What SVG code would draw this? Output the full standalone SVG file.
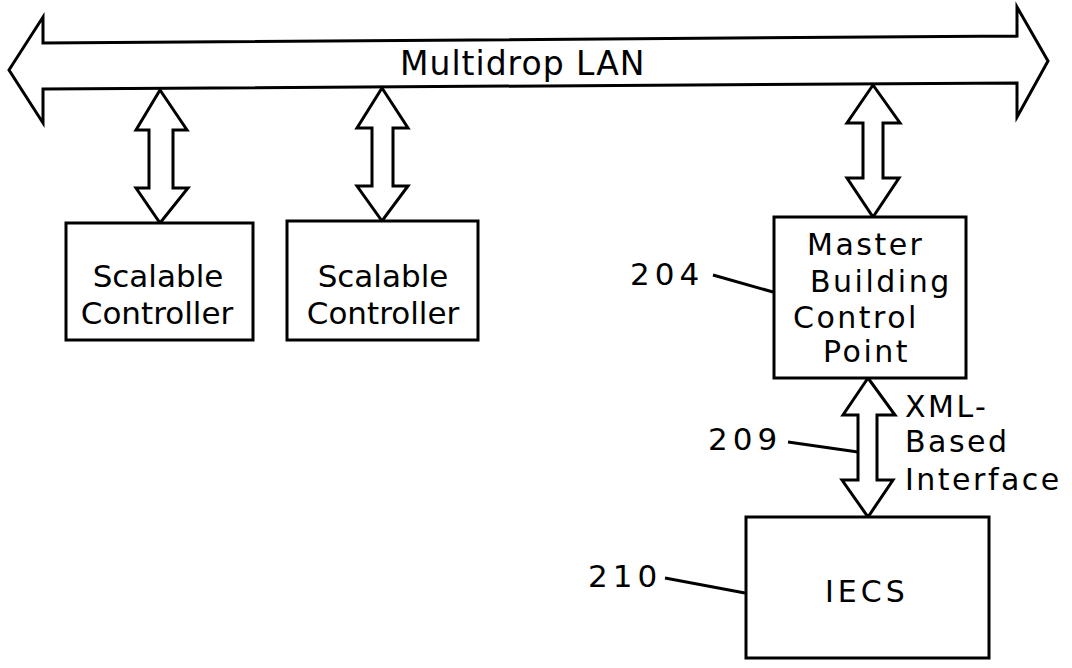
<svg xmlns="http://www.w3.org/2000/svg" width="1072" height="668" viewBox="0 0 1072 668">
<style>
.ln{fill:none;stroke:#000;stroke-width:3;stroke-linejoin:miter}
.ar{fill:#fff;stroke:#000;stroke-width:3;stroke-linejoin:miter}
.bx{fill:#fff;stroke:#000;stroke-width:3}
.t{font-family:"DejaVu Sans",sans-serif;fill:#000}
.g{font-family:"DejaVu Sans",sans-serif;fill:#000;font-size:31px}
.m{font-family:"DejaVu Sans",sans-serif;fill:#000;font-size:30px;letter-spacing:2.5px}
.n{font-family:"DejaVu Sans",sans-serif;fill:#000;font-size:31px;letter-spacing:5px}
</style>
<rect width="1072" height="668" fill="#fff"/>
<g id="connectors">
<polygon id="bus" class="ar" points="9,70 43,17 43,43 1017,36 1017,7 1048,61 1017,117 1017,83 43,89 43,123"/>
<polygon id="a1" class="ar" points="160,90 187,130 173,130 173,188 188,188 160,223 136,188 149,188 149,130 136,130"/>
<polygon id="a2" class="ar" points="382,88 408,128 393,128 393,186 408,186 382,221 357,186 372,186 372,128 357,128"/>
<polygon id="a3" class="ar" points="873,85 900,123 883,123 883,178 899,178 873,217 847,178 863,178 863,123 847,123"/>
<polygon id="a4" class="ar" points="868,378 895,415 877,415 877,480 893,480 868,517 842,480 858,480 858,415 843,415"/>
<path class="ln" d="M713,275 L773,292"/>
<path class="ln" d="M788,442 L858,452"/>
<path class="ln" d="M665,578 L745,593"/>
</g>
<text class="t" x="400" y="75" font-size="33" letter-spacing="1">Multidrop LAN</text>
<g id="sc1">
<rect class="bx" x="66" y="223" width="187" height="117"/>
<text class="g" x="158" y="287" text-anchor="middle">Scalable</text>
<text class="g" x="157" y="324" text-anchor="middle">Controller</text>
</g>
<g id="sc2">
<rect class="bx" x="287" y="221" width="191" height="119"/>
<text class="g" x="383" y="287" text-anchor="middle">Scalable</text>
<text class="g" x="383" y="324" text-anchor="middle">Controller</text>
</g>
<g id="mbcp">
<rect class="bx" x="774" y="217" width="192" height="161"/>
<text class="m" x="807" y="255">Master</text>
<text class="m" x="810" y="292">Building</text>
<text class="m" x="793" y="328">Control</text>
<text class="m" x="823" y="362">Point</text>
</g>
<g id="iecs">
<rect class="bx" x="746" y="517" width="243" height="141"/>
<text class="t" x="825" y="602" font-size="30" letter-spacing="4">IECS</text>
</g>
<g id="labels">
<text class="n" x="630" y="285">204</text>
<text class="n" x="708" y="450">209</text>
<text class="n" x="588" y="587">210</text>
<text class="m" x="905" y="417">XML-</text>
<text class="m" x="905" y="452">Based</text>
<text class="m" x="905" y="490">Interface</text>
</g>
</svg>
